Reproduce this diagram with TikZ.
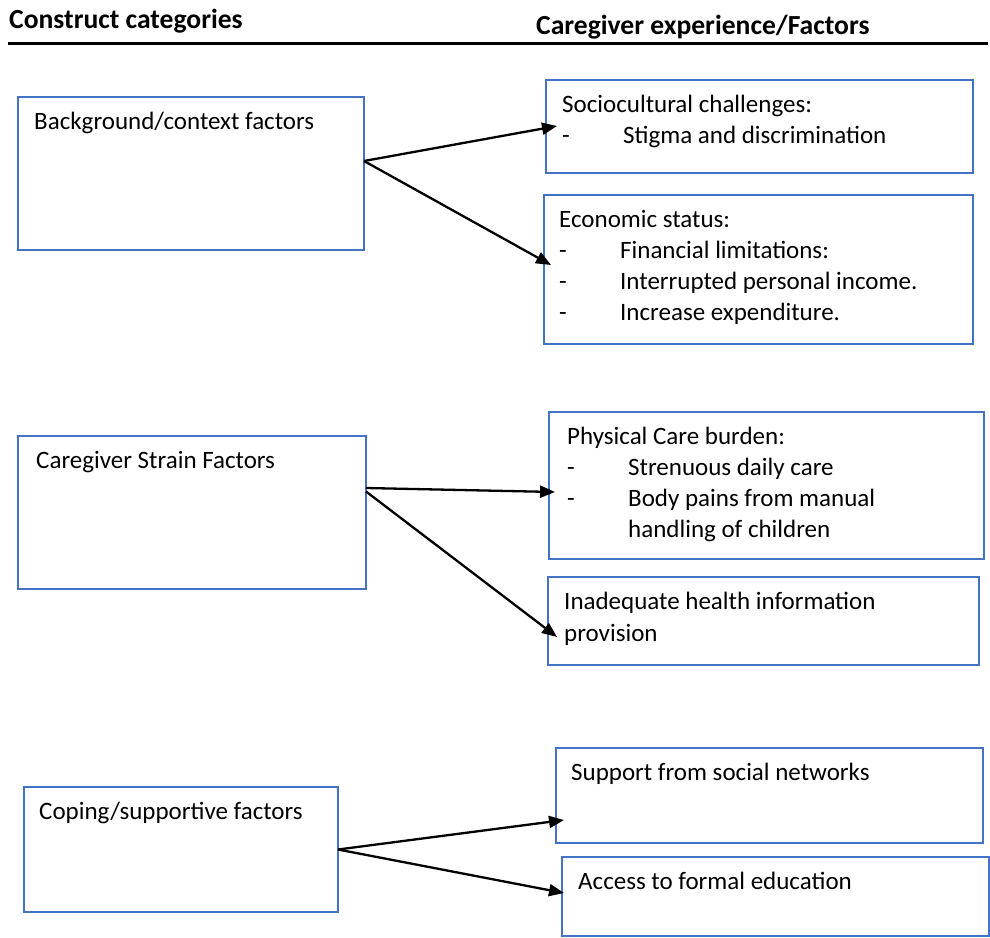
\documentclass[tikz,border=0pt]{standalone}
\usepackage{fontspec}
\setmainfont{Carlito}
\usetikzlibrary{arrows.meta}
\definecolor{boxblue}{RGB}{68,114,196}
\begin{document}
\begin{tikzpicture}[x=1pt,y=-1pt,
  box/.style={draw=boxblue,line width=1.8pt,anchor=north west,inner sep=0pt,outer sep=0pt},
  txt/.style={anchor=base west,inner sep=0pt,font=\fontsize{25}{31}\selectfont},
  head/.style={anchor=base west,inner sep=0pt,font=\fontsize{27.6}{32}\selectfont\bfseries},
  arr/.style={line width=2.3pt,-{Triangle[length=15pt,width=12pt]}},
  rule/.style={line width=3pt}]
\useasboundingbox (0,0) rectangle (990,937);
\newcommand{\dsh}{\makebox[61pt][l]{-}}
% headers
\node[head] (h1) at (9,28) {Construct categories};
\node[head] (h2) at (536,34) {Caregiver experience/Factors};
\coordinate (ra) at (8,43);
\coordinate (rb) at (988,43);
\draw[rule] (ra) -- (rb);
% boxes
\node[box,minimum width=346pt,minimum height=153pt] (l1) at (18,97) {};
\node[box,minimum width=427pt,minimum height=93pt] (r1) at (546,80) {};
\node[box,minimum width=429pt,minimum height=149pt] (r2) at (544,195) {};
\node[box,minimum width=348pt,minimum height=153pt] (l2) at (18,436) {};
\node[box,minimum width=435pt,minimum height=147pt] (r3) at (549,412) {};
\node[box,minimum width=431pt,minimum height=88pt] (r4) at (548,577) {};
\node[box,minimum width=314pt,minimum height=125pt] (l3) at (24,787) {};
\node[box,minimum width=427pt,minimum height=95pt] (r5) at (556,748) {};
\node[box,minimum width=427pt,minimum height=79pt] (r6) at (562,857) {};
% texts
\node[txt] (tl1) at ([xshift=16pt,yshift=-32.5pt]l1.north west) {Background/context factors};
\node[txt] (tr1) at ([xshift=16pt,yshift=-32.5pt]r1.north west) {\begin{tabular}[t]{@{}l@{}}Sociocultural challenges:\\ \dsh Stigma and discrimination\end{tabular}};
\node[txt] (tr2) at ([xshift=15pt,yshift=-32.5pt]r2.north west) {\begin{tabular}[t]{@{}l@{}}Economic status:\\ \dsh Financial limitations:\\ \dsh Interrupted personal income.\\ \dsh Increase expenditure.\end{tabular}};
\node[txt] (tl2) at ([xshift=18pt,yshift=-32.5pt]l2.north west) {Caregiver Strain Factors};
\node[txt] (tr3) at ([xshift=18pt,yshift=-32.5pt]r3.north west) {\begin{tabular}[t]{@{}l@{}}Physical Care burden:\\ \dsh Strenuous daily care\\ \dsh Body pains from manual\\ \hspace*{61pt}handling of children\end{tabular}};
\node[txt] (tr4) at ([xshift=16pt,yshift=-32.5pt]r4.north west) {\begin{tabular}[t]{@{}l@{}}Inadequate health information\\[1pt] provision\end{tabular}};
\node[txt] (tl3) at ([xshift=15pt,yshift=-32.5pt]l3.north west) {Coping/supportive factors};
\node[txt] (tr5) at ([xshift=15pt,yshift=-32.5pt]r5.north west) {Support from social networks};
\node[txt] (tr6) at ([xshift=16pt,yshift=-32.5pt]r6.north west) {Access to formal education};
% arrow tips
\coordinate (t1) at (557,126);
\coordinate (t2) at (551,265);
\coordinate (t3) at (555,492);
\coordinate (t4) at (557,637);
\coordinate (t5) at (564,820);
\coordinate (t6) at (564,893);
% arrows
\draw[arr] ([yshift=12.5pt]l1.east) -- (t1);
\draw[arr] ([yshift=12.5pt]l1.east) -- (t2);
\draw[arr] ([yshift=24.5pt]l2.east) -- (t3);
\draw[arr] ([yshift=21pt]l2.east) -- (t4);
\draw[arr] (l3.east) -- (t5);
\draw[arr] (l3.east) -- (t6);
\end{tikzpicture}
\end{document}
